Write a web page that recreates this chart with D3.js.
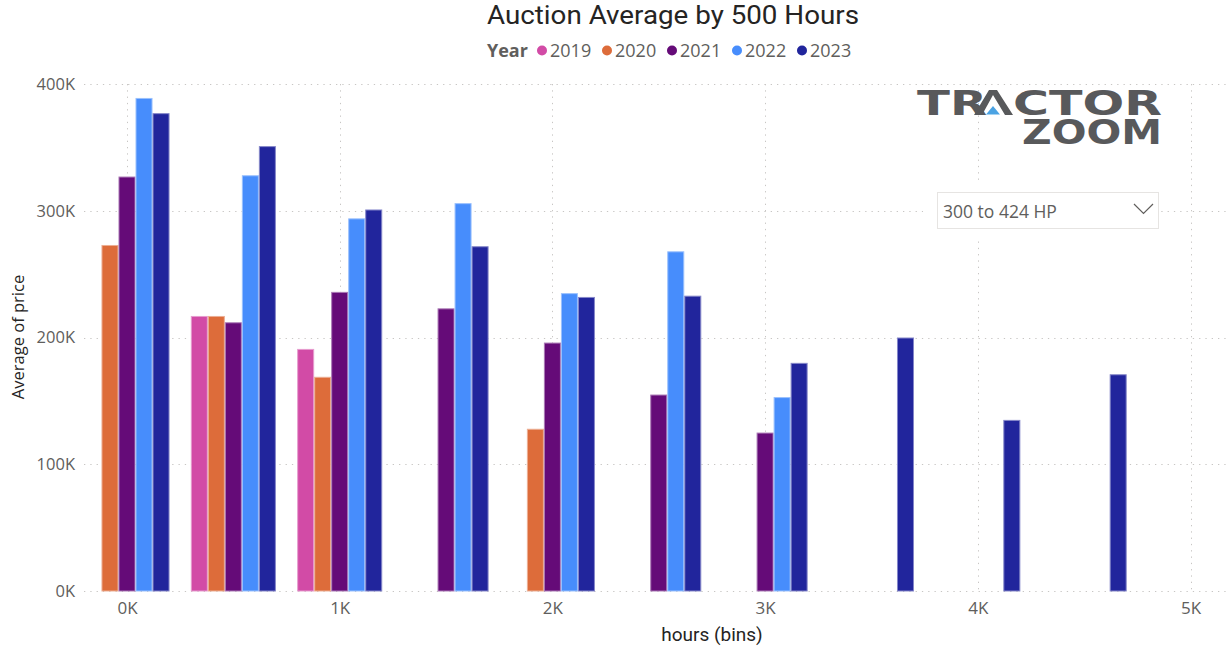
<!DOCTYPE html>
<html>
<head>
<meta charset="utf-8">
<script src="https://cdn.jsdelivr.net/npm/d3@7"></script>
<style>
  html, body { margin: 0; padding: 0; background: #fff; }
  svg { display: block; }
</style>
</head>
<body>
<svg id="chart" width="1228" height="652"></svg>
<script>
// ---- data (values in thousands of dollars) ----
const years = ["2019", "2020", "2021", "2022", "2023"];
const bins = [0, 500, 1000, 1500, 2000, 2500, 3000, 3500, 4000, 4500];
const v2019 = [null, 217, 191, null, null, null, null, null, null, null];
const v2020 = [273, 217, 169, null, 128, null, null, null, null, null];
const v2021 = [327, 212, 236, 223, 196, 155, 125, null, null, null];
const v2022 = [389, 328, 294, 306, 235, 268, 153, null, null, null];
const v2023 = [377, 351, 301, 272, 232, 233, 180, 200, 135, 171];
const seriesValues = [v2019, v2020, v2021, v2022, v2023];
const colors = ["#D24BA6", "#DD6C3A", "#650B78", "#478DFC", "#21259C"];
const xTicks = [0, 1000, 2000, 3000, 4000, 5000];
const yTicks = [0, 100000, 200000, 300000, 400000];
const titleText = "Auction Average by 500 Hours";
const legendTitle = "Year";
const xTitle = "hours (bins)";
const yTitle = "Average of price";
const slicerText = "300 to 424 HP";

const svg = d3.select("#chart");
const textGray = "#605E5C";
const darkText = "#252423";
const gridColor = "#C8C6C4";
const fontMain = "'Open Sans', 'Noto Sans', sans-serif";
const fontTitle = "Roboto, 'DejaVu Sans', sans-serif";

const x = d3.scaleLinear().domain([0, 5000]).range([127, 1190.5]);
const y = d3.scaleLinear().domain([0, 400000]).range([591, 84]);
const binW = x(500) - x(0);
const inner = d3.scaleBand().domain(years).range([-binW * 0.4, binW * 0.4]).padding(0);

const rows = [];
bins.forEach((b, i) => {
  years.forEach((yr, k) => {
    const v = seriesValues[k][i];
    if (v != null) rows.push({ bin: b, year: yr, value: v * 1000, color: colors[k] });
  });
});

// ---- gridlines ----
const grid = svg.append("g");
grid.selectAll("line.h").data(yTicks).join("line")
  .attr("x1", 84).attr("x2", 1228)
  .attr("y1", d => Math.round(y(d)) + 0.5).attr("y2", d => Math.round(y(d)) + 0.5)
  .attr("stroke", gridColor).attr("stroke-width", 1).attr("stroke-dasharray", "1.3,5");
grid.selectAll("line.v").data(xTicks).join("line")
  .attr("x1", d => Math.round(x(d)) + 0.5).attr("x2", d => Math.round(x(d)) + 0.5)
  .attr("y1", y(400000)).attr("y2", y(0))
  .attr("stroke", gridColor).attr("stroke-width", 1).attr("stroke-dasharray", "1.3,5");

// ---- axes ----
const yAxis = svg.append("g").attr("transform", "translate(75,0)")
  .call(d3.axisLeft(y).tickValues(yTicks).tickSize(0).tickPadding(0).tickFormat(d => (d / 1000) + "K"));
yAxis.select(".domain").remove();
yAxis.selectAll("text").attr("font-family", fontMain).attr("font-size", 16.5).attr("fill", textGray);

const xAxis = svg.append("g").attr("transform", "translate(0,600)")
  .call(d3.axisBottom(x).tickValues(xTicks).tickSize(0).tickPadding(0).tickFormat(d => (d / 1000) + "K"));
xAxis.select(".domain").remove();
xAxis.selectAll("text").attr("font-family", fontMain).attr("font-size", 17).attr("fill", textGray).attr("dy", "0.82em");

// ---- bars ----
svg.append("g").selectAll("rect").data(rows).join("rect")
  .attr("x", d => x(d.bin) + inner(d.year) + 0.5)
  .attr("width", inner.bandwidth() - 1)
  .attr("y", d => y(d.value) + 0.5)
  .attr("height", d => y(0) - y(d.value) - 0.5)
  .attr("fill", d => d.color)
  .attr("stroke", d => d3.interpolateRgb(d.color, "#ffffff")(0.45))
  .attr("stroke-width", 1);

// ---- titles ----
svg.append("text").attr("x", 673).attr("y", 24.3).attr("text-anchor", "middle")
  .attr("font-family", fontTitle).attr("font-size", 26)
  .attr("textLength", 372).attr("lengthAdjust", "spacingAndGlyphs")
  .attr("fill", darkText).text(titleText);

svg.append("text").attr("x", 712).attr("y", 641).attr("text-anchor", "middle")
  .attr("font-family", fontTitle).attr("font-size", 19).attr("fill", darkText).text(xTitle);

svg.append("text").attr("transform", "translate(24,337) rotate(-90)").attr("text-anchor", "middle")
  .attr("font-family", fontMain).attr("font-size", 16.5).attr("fill", darkText).text(yTitle);

// ---- legend ----
const lg = svg.append("g").attr("font-family", fontMain).attr("font-size", 18);
lg.append("text").attr("x", 487).attr("y", 57).attr("font-weight", "bold").attr("fill", textGray).text(legendTitle);
const legendX = [542, 607, 672, 737, 802];
years.forEach((yr, k) => {
  lg.append("circle").attr("cx", legendX[k]).attr("cy", 50.5).attr("r", 5).attr("fill", colors[k]);
  lg.append("text").attr("x", legendX[k] + 8).attr("y", 57).attr("fill", textGray).text(yr);
});

// ---- slicer (dropdown) ----
svg.append("rect").attr("x", 923).attr("y", 180).attr("width", 238).attr("height", 60).attr("fill", "#fff");
svg.append("rect").attr("x", 937.5).attr("y", 192.5).attr("width", 221).attr("height", 36)
  .attr("fill", "#fff").attr("stroke", "#E6E4E2");
svg.append("text").attr("x", 943).attr("y", 218).attr("font-family", fontMain).attr("font-size", 17.5)
  .attr("fill", textGray).text(slicerText);
svg.append("path").attr("d", "M1134,204 L1143.5,213.5 L1153,204").attr("fill", "none")
  .attr("stroke", textGray).attr("stroke-width", 1.2);

// ---- logo ----
const logo = svg.append("g").attr("font-family", "'DejaVu Sans', sans-serif").attr("font-weight", "bold")
  .attr("fill", "#58595B").attr("font-size", 34);
logo.append("text").attr("x", 917).attr("y", 115).attr("textLength", 70).attr("lengthAdjust", "spacingAndGlyphs").text("TR");
logo.append("path").attr("d", "M974,115 L989,90 L997,90 L1013,115 L1005,115 L993,95 L982,115 Z").attr("fill", "#58595B");
logo.append("path").attr("d", "M993,106 L1000,114.5 L986,114.5 Z").attr("fill", "#4BA3E3");
logo.append("text").attr("x", 1013).attr("y", 115).attr("textLength", 149).attr("lengthAdjust", "spacingAndGlyphs").text("CTOR");
logo.append("text").attr("x", 1022).attr("y", 144).attr("textLength", 140).attr("lengthAdjust", "spacingAndGlyphs").text("ZOOM");
</script>
</body>
</html>
